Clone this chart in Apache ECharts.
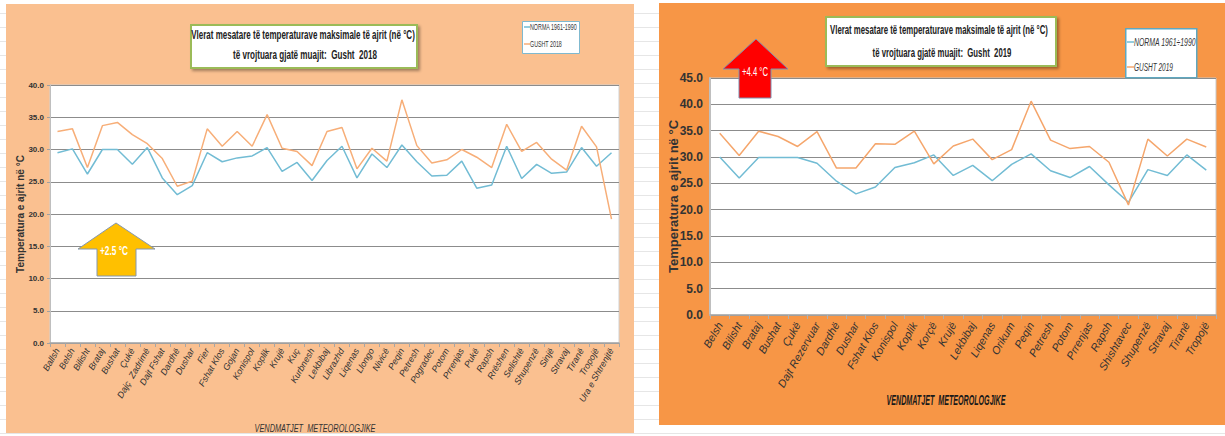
<!DOCTYPE html>
<html>
<head>
<meta charset="utf-8">
<script src="https://cdn.jsdelivr.net/npm/echarts@6/dist/echarts.min.js"></script>
<style>
html,body{margin:0;padding:0;width:1225px;height:436px;overflow:hidden;
  background:#fff repeating-linear-gradient(to bottom, transparent 0, transparent 13px, #e6e6e6 13px, #e6e6e6 14px);}
#bgL{position:absolute;left:6px;top:4px;width:628px;height:429px;background:#FAC090;}
#bgR{position:absolute;left:659px;top:3px;width:566px;height:422px;background:#F79646;}
#chart{position:absolute;left:0;top:0;width:1225px;height:436px;}
</style>
</head>
<body>
<div id="bgL"></div>
<div id="bgR"></div>
<div id="chart"></div>
<script>
// ---- Data: August 2018 ----
const cats2018 = ['Ballsh','Belsh','Bilisht','Brataj','Bushat','Çukë','Dajç  Zadrimë','Dajt Fshat','Dardhë','Dushar','Fier','Fshat Klos','Gojan','Konispol','Koplik','Krujë','Kuç','Kurbnesh','Lekbibaj','Librazhd','Liqenas','Llongo','Nivicë','Peqin','Petresh','Pogradec','Potom','Prrenjas','Pukë','Rapsh','Rrëshen','Selishtë','Shupenzë','Sinjë','Stravaj','Tiranë','Tropojë','Ura e Shtrenjtë'];
const norma2018 = [29.5,30.1,26.2,30.0,30.0,27.7,30.3,25.6,23.0,24.4,29.5,28.1,28.7,29.0,30.3,26.6,28.0,25.2,28.3,30.5,25.6,29.3,27.2,30.7,28.1,25.9,26.0,28.2,24.0,24.5,30.5,25.5,27.7,26.3,26.5,30.3,27.4,29.5];
const gusht2018 = [32.8,33.2,27.2,33.7,34.2,32.3,30.9,28.6,24.3,25.1,33.2,30.5,32.8,30.5,35.4,30.2,29.7,27.5,32.8,33.4,27.0,30.2,28.2,37.7,30.6,27.9,28.4,30.0,28.8,27.2,33.9,29.7,31.1,28.5,26.8,33.6,30.4,19.2];
// ---- Data: August 2019 ----
const cats2019 = ['Belsh','Bilisht','Brataj','Bushat','Çukë','Dajt Rezervuar','Dardhë','Dushar','Fshat Klos','Konispol','Koplik','Korçë','Krujë','Lekbibaj','Liqenas','Orikum','Peqin','Petresh','Potom','Prrenjas','Rapsh','Shishtavec','Shupenzë','Stravaj','Tiranë','Tropojë'];
const norma2019 = [30.0,26.0,29.9,29.9,29.9,28.8,25.4,23.0,24.3,28.0,28.9,30.4,26.5,28.4,25.5,28.6,30.6,27.4,26.1,28.2,24.7,21.4,27.6,26.5,30.4,27.5];
const gusht2019 = [34.5,30.3,34.9,33.9,32.0,34.8,27.9,27.9,32.5,32.4,34.9,28.7,32.1,33.4,29.5,31.4,40.6,33.2,31.6,32.0,29.0,20.9,33.4,30.2,33.4,31.9];
const yTicks2018 = {min:0, max:40, interval:5};
const yTicks2019 = {min:0, max:45, interval:5};
const seriesNames2018 = ['NORMA 1961-1990','GUSHT 2018'];
const seriesNames2019 = ['NORMA 1961÷1990','GUSHT 2019'];
const titleLine1 = 'Vlerat mesatare të temperaturave maksimale të ajrit (në °C)';
const titleLine2018 = 'të vrojtuara gjatë muajit:  Gusht  2018';
const titleLine2019 = 'të vrojtuara gjatë muajit:  Gusht  2019';
const yName = 'Temperatura e ajrit në °C';
const xName = 'VENDMATJET  METEOROLOGJIKE';

const SANS = '"Liberation Sans", Arial, sans-serif';
const BLUE = '#72BCD4';
const ORANGE = '#F7AE78';
const ORANGE2 = '#F5A66C';

// condensed text helper: horizontally squeezes a text to a measured target width
const mctx = document.createElement('canvas').getContext('2d');
function ctext(text, x, y, font, width, align, fill, z) {
  mctx.font = font;
  const w = mctx.measureText(text).width;
  return {type:'text', x:x, y:y, z:z||101, scaleX: width / w, scaleY: 1,
    style:{text:text, font:font, fill:fill||'#222', align:align||'center', verticalAlign:'middle'}};
}

const chart = echarts.init(document.getElementById('chart'), null, {renderer:'svg'});
chart.setOption({
  backgroundColor:'transparent',
  animation:false,
  grid:[
    {left:50, top:85, width:569, height:258, show:true, backgroundColor:'#fff', borderColor:'#D0D0D0', borderWidth:1},
    {left:710, top:78, width:506, height:237, show:true, backgroundColor:'#fff', borderColor:'#C8C8C8', borderWidth:1}
  ],
  xAxis:[
    {type:'category', gridIndex:0, data:cats2018, boundaryGap:true,
     axisLine:{lineStyle:{color:'#A6A6A6', width:1.5}},
     axisTick:{show:true, length:4, interval:0, lineStyle:{color:'#A6A6A6'}},
     axisLabel:{interval:0, rotate:60, fontSize:9, fontStyle:'italic', color:'#333', fontFamily:SANS, margin:6}},
    {type:'category', gridIndex:1, data:cats2019, boundaryGap:true,
     axisLine:{lineStyle:{color:'#A6A6A6', width:1.5}},
     axisTick:{show:true, length:4, interval:0, lineStyle:{color:'#B0B0B0'}},
     axisLabel:{interval:0, rotate:60, fontSize:11, fontStyle:'italic', color:'#333', fontFamily:SANS, margin:8}}
  ],
  yAxis:[
    {type:'value', gridIndex:0, min:yTicks2018.min, max:yTicks2018.max, interval:yTicks2018.interval,
     name:yName, nameLocation:'middle', nameGap:25, nameMoveOverlap:false,
     nameTextStyle:{fontSize:10, fontWeight:'bold', color:'#333', fontFamily:SANS},
     axisLine:{show:true, lineStyle:{color:'#BFBFBF'}},
     axisTick:{show:true, length:3, lineStyle:{color:'#A0A0A0'}},
     axisLabel:{formatter:v=>v.toFixed(1), fontSize:8, fontWeight:'bold', color:'#333', fontFamily:SANS, margin:6},
     splitLine:{lineStyle:{color:'#8C8C8C', width:1}}},
    {type:'value', gridIndex:1, min:yTicks2019.min, max:yTicks2019.max, interval:yTicks2019.interval,
     name:yName, nameLocation:'middle', nameGap:30, nameMoveOverlap:false,
     nameTextStyle:{fontSize:13, fontWeight:'bold', color:'#333', fontFamily:SANS},
     axisLine:{show:true, lineStyle:{color:'#BFBFBF', width:2}},
     axisTick:{show:false},
     axisLabel:{formatter:v=>v.toFixed(1), fontSize:12, fontWeight:'bold', color:'#333', fontFamily:SANS, margin:7},
     splitLine:{lineStyle:{color:'#8C8C8C', width:1.2}}}
  ],
  series:[
    {name:seriesNames2018[0], type:'line', xAxisIndex:0, yAxisIndex:0, data:norma2018, symbol:'none', lineStyle:{color:BLUE, width:1.5}, itemStyle:{color:BLUE}},
    {name:seriesNames2018[1], type:'line', xAxisIndex:0, yAxisIndex:0, data:gusht2018, symbol:'none', lineStyle:{color:ORANGE, width:1.5}, itemStyle:{color:ORANGE}},
    {name:seriesNames2019[0], type:'line', xAxisIndex:1, yAxisIndex:1, data:norma2019, symbol:'none', lineStyle:{color:BLUE, width:1.5}, itemStyle:{color:BLUE}},
    {name:seriesNames2019[1], type:'line', xAxisIndex:1, yAxisIndex:1, data:gusht2019, symbol:'none', lineStyle:{color:ORANGE2, width:1.5}, itemStyle:{color:ORANGE2}}
  ],
  graphic:[
    // title box 2018
    {type:'rect', left:190, top:24, z:100, shape:{width:226, height:43},
     style:{fill:'#fff', stroke:'#9BBB59', lineWidth:2, shadowBlur:3, shadowOffsetX:2, shadowOffsetY:2, shadowColor:'rgba(0,0,0,0.35)'}},
    ctext(titleLine1, 303, 35, 'bold 12px '+SANS, 224),
    ctext(titleLine2018, 305, 55, 'bold 12px '+SANS, 144),
    // title box 2019
    {type:'rect', left:825, top:16, z:100, shape:{width:230, height:49},
     style:{fill:'#fff', stroke:'#9BBB59', lineWidth:2, shadowBlur:3, shadowOffsetX:2, shadowOffsetY:2, shadowColor:'rgba(0,0,0,0.35)'}},
    ctext(titleLine1, 939, 30, 'bold 12px '+SANS, 218),
    ctext(titleLine2019, 942, 53, 'bold 12px '+SANS, 139),
    // legend 2018
    {type:'rect', left:522, top:21, z:100, shape:{width:57, height:32}, style:{fill:'#fff', stroke:'#7FB9CF', lineWidth:1}},
    {type:'line', z:101, shape:{x1:524, y1:27, x2:530, y2:27}, style:{stroke:BLUE, lineWidth:1.5}},
    ctext(seriesNames2018[0], 530, 27, '9px '+SANS, 47, 'left', '#333'),
    {type:'line', z:101, shape:{x1:524, y1:44, x2:530, y2:44}, style:{stroke:ORANGE, lineWidth:1.5}},
    ctext(seriesNames2018[1], 530, 44, '9px '+SANS, 32, 'left', '#333'),
    // legend 2019
    {type:'rect', left:1125, top:28, z:100, shape:{width:71, height:49}, style:{fill:'#fff', stroke:'#5FA7BF', lineWidth:1.5}},
    {type:'line', z:101, shape:{x1:1127, y1:42, x2:1134, y2:42}, style:{stroke:BLUE, lineWidth:1.5}},
    ctext(seriesNames2019[0], 1134, 42, 'italic 11px '+SANS, 62, 'left', '#333'),
    {type:'line', z:101, shape:{x1:1127, y1:67, x2:1134, y2:67}, style:{stroke:ORANGE2, lineWidth:1.5}},
    ctext(seriesNames2019[1], 1134, 67, 'italic 11px '+SANS, 39, 'left', '#333'),
    // yellow arrow
    {type:'polygon', z:100, shape:{points:[[78,249],[116,223],[155,249],[136,249],[136,276],[97,276],[97,249]]},
     style:{fill:'#FFC000', stroke:'#8497B0', lineWidth:1}},
    ctext('+2.5 °C', 114, 251, 'bold 12px '+SANS, 28, 'center', '#fff'),
    // red arrow
    {type:'polygon', z:100, shape:{points:[[723,69],[756,39],[788,69],[771,69],[771,98],[739,98],[739,69]]},
     style:{fill:'#FF0000', stroke:'#7F8FB0', lineWidth:1}},
    ctext('+4.4 °C', 755, 71, '13px '+SANS, 26, 'center', '#fff'),
    // x axis names
    ctext(xName, 315, 428, 'italic 11px '+SANS, 121, 'center', '#333'),
    ctext(xName, 946, 399, 'italic bold 15px '+SANS, 119, 'center', '#1a1a1a')
  ]
});
</script>
</body>
</html>
